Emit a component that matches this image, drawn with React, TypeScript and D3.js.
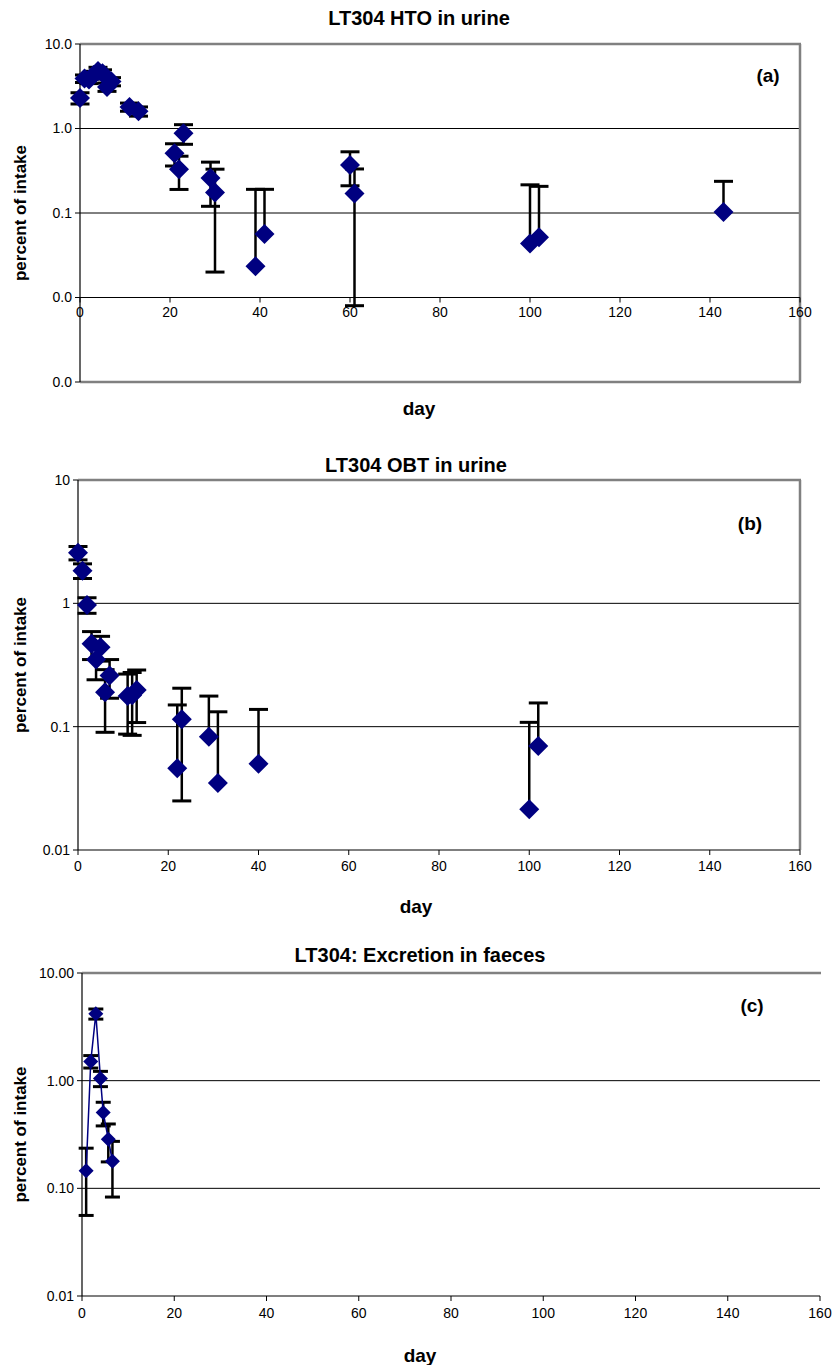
import React from "react";
import * as d3 from "d3";

// ---------- DATA ----------
// Panel (a): LT304 HTO in urine
const htoDays = [0, 1, 2, 3, 4, 5, 6, 7, 11, 13, 21, 22, 23, 29, 30, 39, 41, 60, 61, 100, 102, 143];
const htoValues = [2.3, 3.9, 3.8, 4.3, 4.8, 4.5, 3.1, 3.6, 1.8, 1.6, 0.51, 0.33, 0.88, 0.26, 0.175, 0.0235, 0.0566, 0.37, 0.17, 0.0435, 0.0517, 0.103];
const htoErrors = [0.35, 0.4, 0.4, 0.45, 0.5, 0.45, 0.35, 0.4, 0.2, 0.2, 0.15, 0.14, 0.23, 0.14, 0.155, 0.167, 0.134, 0.16, 0.162, 0.172, 0.155, 0.134];
const htoTickLabels = ["10.0", "1.0", "0.1", "0.0", "0.0"];

// Panel (b): LT304 OBT in urine
const obtDays = [0, 1, 2, 3, 4, 5, 6, 7, 11, 12, 13, 22, 23, 29, 31, 40, 100, 102];
const obtValues = [2.57, 1.84, 0.97, 0.47, 0.35, 0.44, 0.19, 0.26, 0.177, 0.18, 0.198, 0.046, 0.115, 0.083, 0.035, 0.05, 0.0214, 0.0697];
const obtErrors = [0.32, 0.25, 0.14, 0.12, 0.11, 0.1, 0.1, 0.09, 0.09, 0.095, 0.09, 0.104, 0.09, 0.094, 0.097, 0.088, 0.087, 0.086];
const obtTickLabels = ["10", "1", "0.1", "0.01"];

// Panel (c): LT304 Excretion in faeces
const faecesDays = [0.9, 1.9, 3, 4, 4.6, 5.7, 6.6];
const faecesValues = [0.146, 1.51, 4.18, 1.05, 0.505, 0.286, 0.178];
const faecesErrors = [0.09, 0.2, 0.45, 0.17, 0.125, 0.11, 0.095];
const faecesTickLabels = ["10.00", "1.00", "0.10", "0.01"];

const xTicks = [0, 20, 40, 60, 80, 100, 120, 140, 160];

const NAVY = "#000080";
const FONT = "'Liberation Sans', Arial, sans-serif";

type PanelProps = {
  title: string;
  letter: string;
  letterPos: [number, number];
  titleY: number;
  textCx: number;
  left: number;
  right: number;
  top: number;
  bottom: number;
  yMin: number;
  axisAt: number;
  yTickValues: number[];
  yTickLabels: string[];
  xLabelY: number;
  dayY: number;
  days: number[];
  values: number[];
  errors: number[];
  diamond: number;
  cap: number;
  connect?: boolean;
  rightBorder: boolean;
  bottomBorder: boolean;
};

function Panel(p: PanelProps) {
  const x = d3.scaleLinear().domain([0, 160]).range([p.left, p.right]);
  const y = d3.scaleLog().domain([p.yMin, 10]).range([p.bottom, p.top]);
  const axisY = y(p.axisAt);
  const cx = p.textCx;
  const grid = [1, 0.1];
  const line = d3
    .line<number>()
    .x((_, i) => x(p.days[i]))
    .y((v) => y(v));
  const diamondPath = (px: number, py: number) => {
    const r = p.diamond;
    return `M${px},${py - r}L${px + r},${py}L${px},${py + r}L${px - r},${py}Z`;
  };
  return (
    <g>
      <text x={cx} y={p.titleY} textAnchor="middle" fontFamily={FONT} fontWeight="bold" fontSize={20}>
        {p.title}
      </text>
      {grid.map((g) => (
        <line key={g} x1={p.left} x2={p.right} y1={y(g)} y2={y(g)} stroke="#000" strokeWidth={1} />
      ))}
      <line x1={p.left} x2={p.right + 1} y1={p.top} y2={p.top} stroke="#808080" strokeWidth={2.5} />
      {p.rightBorder && (
        <line x1={p.right} x2={p.right} y1={p.top} y2={p.bottom} stroke="#808080" strokeWidth={2.5} />
      )}
      {p.bottomBorder && (
        <line x1={p.left} x2={p.right + 1} y1={p.bottom} y2={p.bottom} stroke="#808080" strokeWidth={2.5} />
      )}
      <line x1={p.left} x2={p.left} y1={p.top} y2={p.bottom} stroke="#000" strokeWidth={1.2} />
      {p.yTickValues.map((t, i) => (
        <g key={t}>
          <line x1={p.left - 5} x2={p.left} y1={y(t)} y2={y(t)} stroke="#000" strokeWidth={1} />
          <text x={p.left - 8} y={y(t)} dy="0.35em" textAnchor="end" fontFamily={FONT} fontSize={14}>
            {p.yTickLabels[i]}
          </text>
        </g>
      ))}
      <line x1={p.left} x2={p.right} y1={axisY} y2={axisY} stroke="#000" strokeWidth={1.2} />
      {xTicks.map((t) => (
        <g key={t}>
          <line x1={x(t)} x2={x(t)} y1={axisY} y2={axisY + 5} stroke="#000" strokeWidth={1} />
          <text x={x(t)} y={p.xLabelY} dy="0.35em" textAnchor="middle" fontFamily={FONT} fontSize={14}>
            {t}
          </text>
        </g>
      ))}
      <text
        transform={`translate(20,${(p.top + p.bottom) / 2}) rotate(-90)`}
        textAnchor="middle"
        dy="0.35em"
        fontFamily={FONT}
        fontWeight="bold"
        fontSize={17}
      >
        percent of intake
      </text>
      <text x={cx} y={p.dayY} dy="0.35em" textAnchor="middle" fontFamily={FONT} fontWeight="bold" fontSize={19}>
        day
      </text>
      <text x={p.letterPos[0]} y={p.letterPos[1]} dy="0.35em" textAnchor="middle" fontFamily={FONT} fontWeight="bold" fontSize={19}>
        {p.letter}
      </text>
      {p.values.map((v, i) => {
        const px = x(p.days[i]);
        const hi = v + p.errors[i];
        const lo = v - p.errors[i];
        const yHi = y(hi);
        const yLo = lo > 0 ? y(lo) : y(v);
        return (
          <g key={i} stroke="#000">
            <line x1={px} x2={px} y1={yHi} y2={yLo} strokeWidth={2.5} />
            <line x1={px - p.cap / 2} x2={px + p.cap / 2} y1={yHi} y2={yHi} strokeWidth={3} />
            {lo > 0 && <line x1={px - p.cap / 2} x2={px + p.cap / 2} y1={yLo} y2={yLo} strokeWidth={3} />}
          </g>
        );
      })}
      {p.connect && <path d={line(p.values) || ""} fill="none" stroke={NAVY} strokeWidth={1.5} />}
      {p.values.map((v, i) => (
        <path key={i} d={diamondPath(x(p.days[i]), y(v))} fill={NAVY} />
      ))}
    </g>
  );
}

export default function App() {
  return (
    <svg
      width={837}
      height={1365}
      style={{ position: "absolute", left: 0, top: 0, background: "#fff" }}
    >
      <rect width={837} height={1365} fill="#fff" />
      <Panel
        title="LT304 HTO in urine"
        letter="(a)"
        letterPos={[768, 75]}
        titleY={25}
        textCx={419}
        left={80}
        right={800}
        top={44}
        bottom={382}
        yMin={0.001}
        axisAt={0.01}
        yTickValues={[10, 1, 0.1, 0.01, 0.001]}
        yTickLabels={htoTickLabels}
        xLabelY={312}
        dayY={408}
        days={htoDays}
        values={htoValues}
        errors={htoErrors}
        diamond={10}
        cap={19}
        rightBorder={true}
        bottomBorder={true}
      />
      <Panel
        title="LT304 OBT in urine"
        letter="(b)"
        letterPos={[750, 523]}
        titleY={472}
        textCx={416}
        left={78}
        right={800}
        top={480}
        bottom={850}
        yMin={0.01}
        axisAt={0.01}
        yTickValues={[10, 1, 0.1, 0.01]}
        yTickLabels={obtTickLabels}
        xLabelY={866}
        dayY={906}
        days={obtDays}
        values={obtValues}
        errors={obtErrors}
        diamond={10}
        cap={19}
        rightBorder={true}
        bottomBorder={false}
      />
      <Panel
        title="LT304: Excretion in faeces"
        letter="(c)"
        letterPos={[752, 1005]}
        titleY={962}
        textCx={420}
        left={82}
        right={820}
        top={973}
        bottom={1296}
        yMin={0.01}
        axisAt={0.01}
        yTickValues={[10, 1, 0.1, 0.01]}
        yTickLabels={faecesTickLabels}
        xLabelY={1313}
        dayY={1355}
        days={faecesDays}
        values={faecesValues}
        errors={faecesErrors}
        diamond={7.5}
        cap={15}
        connect={true}
        rightBorder={false}
        bottomBorder={false}
      />
    </svg>
  );
}
